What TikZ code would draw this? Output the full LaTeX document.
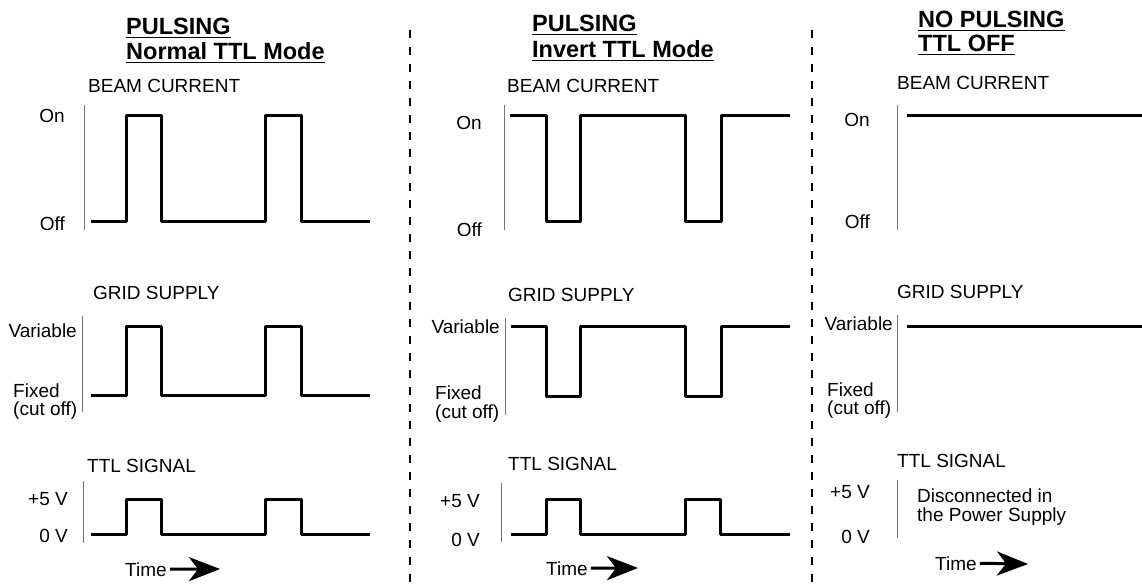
\documentclass[tikz,border=0pt]{standalone}
\usepackage{fontspec}
\setmainfont{Liberation Sans}
\usepackage{tikz}
\usetikzlibrary{arrows.meta}

\begin{document}
\begin{tikzpicture}[
    x=1pt, y=-1pt,
    font=\fontsize{19}{22}\selectfont,
    wave/.style={line width=3pt, line join=round},
    axisline/.style={draw=black!55, line width=1pt},
    divider/.style={line width=2pt, dash pattern=on 8pt off 9pt},
    lbl/.style={inner sep=0pt, anchor=base west},
    lvl/.style={inner sep=0pt, anchor=base east},
    heading/.style={inner sep=0pt, anchor=base west, font=\fontsize{23.5}{26}\selectfont\bfseries},
    ulrule/.style={line width=1.6pt},
    timearrow/.style={line width=3pt, shorten <=3pt, -{Stealth[length=31pt,width=24pt,inset=9pt]}}
]
\useasboundingbox (0,0) rectangle (1142,588);

% --- dividers between the three cases
\foreach \dx in {410,812}
    \draw[divider] (\dx,30) -- (\dx,588);

% --- headings
\node[heading] (h1a) at (126,35) {PULSING};
\node[heading] (h1b) at (126,60) {Normal TTL Mode};
\node[heading] (h2a) at (532,32) {PULSING};
\node[heading] (h2b) at (532,58) {Invert TTL Mode};
\node[heading] (h3a) at (918,28) {NO PULSING};
\node[heading] (h3b) at (918,52) {TTL OFF};
\foreach \h in {h1a,h1b,h2a,h2b,h3a,h3b}
    \draw[ulrule] ([yshift=-2.5pt]\h.base west) -- ([yshift=-2.5pt]\h.base east);

% --- Left: pulsing, normal TTL mode
\node[lbl] (beam1) at (88,93) {BEAM CURRENT};
\node[lvl] (on1) at (65,123) {On};
\node[lvl] (off1) at (65,230) {Off};
\draw[axisline] (84,105) -- (84,230);
\draw[wave] (91,221) -- (126,221) -- (126,116) -- (161,116) -- (161,221)
    -- (265,221) -- (265,116) -- (301,116) -- (301,221) -- (370,221);

\node[lbl] (grid1) at (93,299) {GRID SUPPLY};
\node[lvl] (var1) at (77,337) {Variable};
\node[lbl] (fix1) at (13,397) {Fixed};
\node[lbl] (cut1) at (13,415) {(cut off)};
\draw[axisline] (82,316) -- (82,412);
\draw[wave] (91,395) -- (126,395) -- (126,326) -- (161,326) -- (161,395)
    -- (265,395) -- (265,326) -- (301,326) -- (301,395) -- (370,395);

\node[lbl] (ttl1) at (87,472) {TTL SIGNAL};
\node[lvl] (hi1) at (68,505) {+5 V};
\node[lvl] (lo1) at (68,542) {0 V};
\draw[axisline] (83,481) -- (83,543);
\draw[wave] (91,534) -- (126,534) -- (126,499) -- (161,499) -- (161,534)
    -- (265,534) -- (265,499) -- (301,499) -- (301,534) -- (370,534);

\node[lbl] (time1) at (125,576) {Time};
\coordinate (time1end) at (220,569);
\draw[timearrow] (time1.east) -- (time1end);

% --- Middle: pulsing, invert TTL mode
\node[lbl] (beam2) at (507,93) {BEAM CURRENT};
\node[lvl] (on2) at (482,130) {On};
\node[lvl] (off2) at (482,236) {Off};
\draw[axisline] (504,105) -- (504,230);
\draw[wave] (510,116) -- (546,116) -- (546,221) -- (580,221) -- (580,116)
    -- (685,116) -- (685,221) -- (721,221) -- (721,116) -- (790,116);

\node[lbl] (grid2) at (508,301) {GRID SUPPLY};
\node[lvl] (var2) at (500,333) {Variable};
\node[lbl] (fix2) at (435,399) {Fixed};
\node[lbl] (cut2) at (435,418) {(cut off)};
\draw[axisline] (505,318) -- (505,415);
\draw[wave] (511,326) -- (546,326) -- (546,396) -- (580,396) -- (580,326)
    -- (685,326) -- (685,396) -- (721,396) -- (721,326) -- (790,326);

\node[lbl] (ttl2) at (508,470) {TTL SIGNAL};
\node[lvl] (hi2) at (480,507) {+5 V};
\node[lvl] (lo2) at (480,546) {0 V};
\draw[axisline] (501,483) -- (501,542);
\draw[wave] (511,534) -- (546,534) -- (546,499) -- (580,499) -- (580,534)
    -- (685,534) -- (685,499) -- (720,499) -- (720,534) -- (790,534);

\node[lbl] (time2) at (546,575) {Time};
\coordinate (time2end) at (638,568);
\draw[timearrow] (time2.east) -- (time2end);

% --- Right: no pulsing, TTL off
\node[lbl] (beam3) at (897,90) {BEAM CURRENT};
\node[lvl] (on3) at (870,127) {On};
\node[lvl] (off3) at (870,228) {Off};
\draw[axisline] (897,105) -- (897,230);
\draw[wave] (907,116) -- (1142,116);

\node[lbl] (grid3) at (897,298) {GRID SUPPLY};
\node[lvl] (var3) at (893,330) {Variable};
\node[lbl] (fix3) at (827,396) {Fixed};
\node[lbl] (cut3) at (827,414) {(cut off)};
\draw[axisline] (897,315) -- (897,412);
\draw[wave] (907,326) -- (1142,326);

\node[lbl] (ttl3) at (897,467) {TTL SIGNAL};
\node[lvl] (hi3) at (870,498) {+5 V};
\node[lvl] (lo3) at (870,543) {0 V};
\draw[axisline] (897,480) -- (897,538);
\node[lbl] (disc3a) at (917,502) {Disconnected in};
\node[lbl] (disc3b) at (917,521) {the Power Supply};

\node[lbl] (time3) at (935,570) {Time};
\coordinate (time3end) at (1028,564);
\draw[timearrow] (time3.east) -- (time3end);
\end{tikzpicture}
\end{document}
